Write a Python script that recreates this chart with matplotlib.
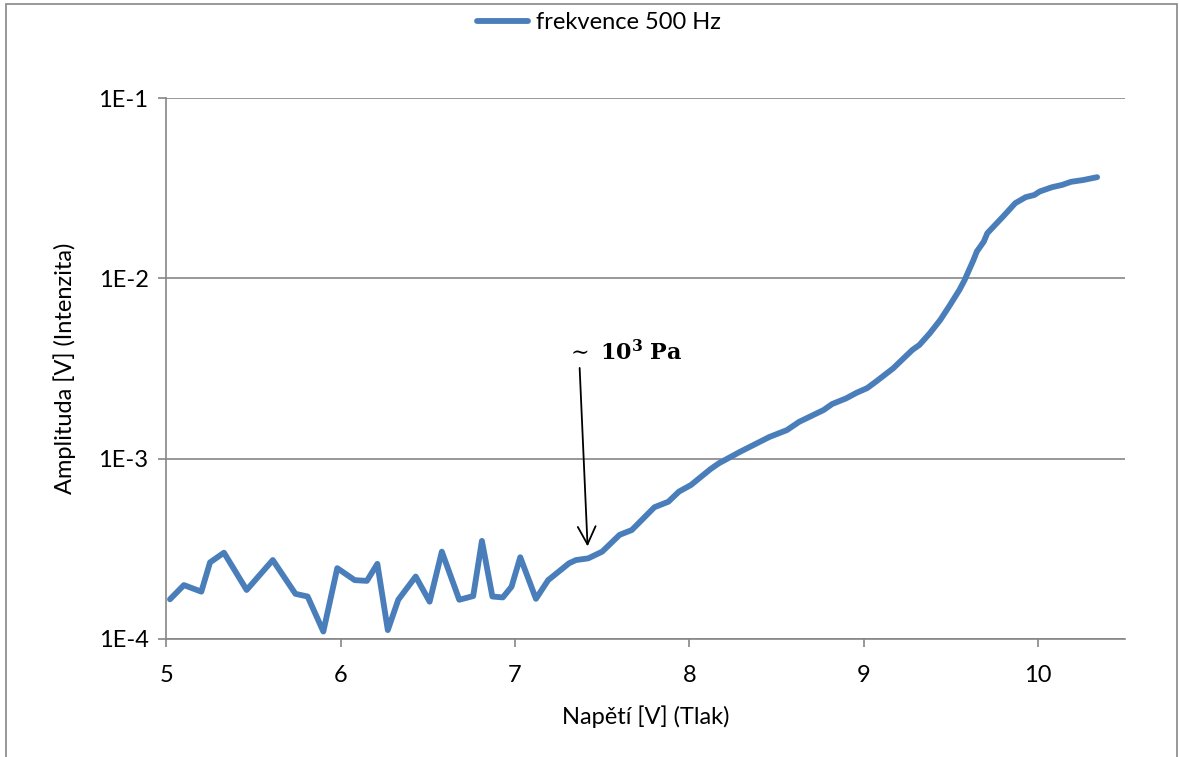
import matplotlib
matplotlib.use("Agg")
import matplotlib.pyplot as plt
from matplotlib.patches import Rectangle
from matplotlib.ticker import FixedLocator, FixedFormatter, NullLocator

# Data
napeti = [5.02, 5.10, 5.20, 5.25, 5.33, 5.46, 5.61, 5.74, 5.81, 5.90,
          5.98, 6.08, 6.15, 6.21, 6.27, 6.33, 6.43, 6.51, 6.58, 6.68,
          6.76, 6.81, 6.87, 6.93, 6.98, 7.03, 7.12, 7.19, 7.31, 7.35,
          7.42, 7.50, 7.60, 7.67, 7.80, 7.88, 7.94, 8.01, 8.12, 8.17,
          8.29, 8.46, 8.56, 8.63, 8.77, 8.82, 8.90, 8.96, 9.02, 9.07,
          9.17, 9.22, 9.28, 9.32, 9.38, 9.44, 9.49, 9.55, 9.58, 9.61,
          9.63, 9.65, 9.69, 9.71, 9.80, 9.87, 9.93, 9.98, 10.01, 10.08,
          10.14, 10.19, 10.26, 10.34]
amplituda = [1.66e-4, 1.99e-4, 1.83e-4, 2.66e-4, 3.01e-4, 1.87e-4, 2.74e-4, 1.78e-4, 1.72e-4, 1.10e-4,
             2.47e-4, 2.12e-4, 2.10e-4, 2.61e-4, 1.12e-4, 1.65e-4, 2.22e-4, 1.61e-4, 3.05e-4, 1.65e-4,
             1.73e-4, 3.50e-4, 1.72e-4, 1.70e-4, 1.95e-4, 2.84e-4, 1.67e-4, 2.12e-4, 2.63e-4, 2.74e-4,
             2.80e-4, 3.05e-4, 3.78e-4, 4.02e-4, 5.38e-4, 5.77e-4, 6.56e-4, 7.15e-4, 8.73e-4, 9.43e-4,
             1.09e-3, 1.32e-3, 1.44e-3, 1.60e-3, 1.86e-3, 2.01e-3, 2.16e-3, 2.32e-3, 2.46e-3, 2.67e-3,
             3.17e-3, 3.53e-3, 4.01e-3, 4.27e-3, 4.96e-3, 5.88e-3, 6.97e-3, 8.63e-3, 9.80e-3, 1.14e-2,
             1.26e-2, 1.41e-2, 1.60e-2, 1.78e-2, 2.20e-2, 2.61e-2, 2.82e-2, 2.90e-2, 3.03e-2, 3.20e-2,
             3.30e-2, 3.43e-2, 3.51e-2, 3.64e-2]

x_ticks = [5, 6, 7, 8, 9, 10]
y_ticks = [1e-4, 1e-3, 1e-2, 1e-1]
y_tick_labels = ["1E-4", "1E-3", "1E-2", "1E-1"]
series_label = "frekvence 500 Hz"
x_label = "Napětí [V] (Tlak)"
y_label = "Amplituda [V] (Intenzita)"
annot_text = r"$\sim$ $\mathbf{10^3}$ $\mathbf{Pa}$"

plt.rcParams['font.family'] = ['Lato', 'DejaVu Sans']

fig = plt.figure(figsize=(11.79, 7.57), dpi=100)
ax = fig.add_axes([0.1412, 0.1559, 0.8130, 0.7146])

grey = "#868686"
line, = ax.plot(napeti, amplituda, color="#4A7EBB", lw=4.2,
                solid_joinstyle="round", solid_capstyle="round", label=series_label)

ax.set_yscale("log")
ax.set_xlim(5, 10.5)
ax.set_ylim(1e-4, 1e-1)
ax.xaxis.set_major_locator(FixedLocator(x_ticks))
ax.yaxis.set_major_locator(FixedLocator(y_ticks))
ax.yaxis.set_major_formatter(FixedFormatter(y_tick_labels))
ax.yaxis.set_minor_locator(NullLocator())
ax.grid(axis="y", color=grey, lw=1.2)
ax.set_axisbelow(True)

for s in ["top", "right"]:
    ax.spines[s].set_visible(False)
for s in ["left", "bottom"]:
    ax.spines[s].set_color(grey)
    ax.spines[s].set_linewidth(1.2)
ax.tick_params(axis="both", direction="out", length=6, width=1.2, color=grey,
               labelsize=17, labelcolor="black")
ax.tick_params(axis="x", pad=12.5)
ax.tick_params(axis="y", pad=7)

ax.set_xlabel(x_label, fontsize=17, labelpad=14)
ax.set_ylabel(y_label, fontsize=17, labelpad=16)

ax.annotate("", xy=(7.417, 3.15e-4), xytext=(7.37, 3.3e-3),
            arrowprops=dict(arrowstyle="->", color="black", lw=1.3, mutation_scale=32))
ax.text(7.29, 3.86e-3, annot_text, fontsize=16, va="center", ha="left",
        family="DejaVu Serif", math_fontfamily="dejavuserif")

fig.legend(handles=[line], labels=[series_label], loc="upper center",
           bbox_to_anchor=(0.508, 1.012), frameon=False, fontsize=17,
           handlelength=2.16, handletextpad=0.3)

fig.patches.append(Rectangle((6 / 1179, -0.05), 1171 / 1179, 1.05 - 4 / 757,
                             transform=fig.transFigure, fill=False,
                             edgecolor=grey, lw=1.2))

fig.savefig("out.png", dpi=100)
